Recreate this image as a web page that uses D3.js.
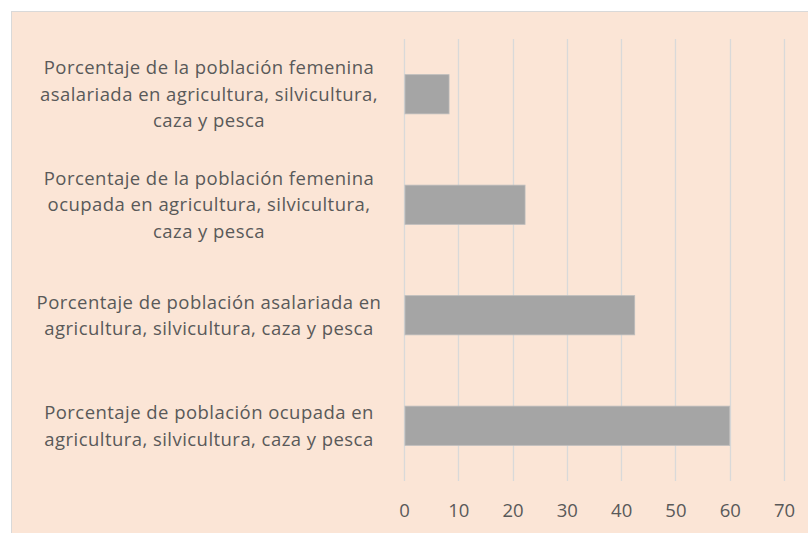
<!DOCTYPE html>
<html>
<head>
<meta charset="utf-8">
<script src="https://cdn.jsdelivr.net/npm/d3@7"></script>
<style>
  body { margin: 0; background: #ffffff; }
  text { font-family: "Open Sans", sans-serif; }
</style>
</head>
<body>
<div id="chart"></div>
<script>
////// DATA ////////
var categories = [
	"Porcentaje de la población femenina|asalariada en agricultura, silvicultura,|caza y pesca",
	"Porcentaje de la población femenina|ocupada en agricultura, silvicultura,|caza y pesca",
	"Porcentaje de población asalariada en|agricultura, silvicultura, caza y pesca",
	"Porcentaje de población ocupada en|agricultura, silvicultura, caza y pesca"
];
var values = [8.3, 22.3, 42.5, 60.0];
var xTicks = [0, 10, 20, 30, 40, 50, 60, 70];
////////////////////

var w = 808;
var h = 533;
var fontSize = 18.5;

var svg = d3.select("#chart")
	.append("svg")
	.attr("width", w)
	.attr("height", h);

// chart area background
svg.append("rect")
	.attr("x", 11.5)
	.attr("y", 11.5)
	.attr("width", w)
	.attr("height", h)
	.attr("fill", "#fbe5d6")
	.attr("stroke", "#d9d9d9")
	.attr("stroke-width", 1);

var plot = {left: 404, right: 784, top: 39, bottom: 481};

var xScale = d3.scaleLinear()
	.domain([0, 70])
	.range([plot.left, plot.right]);

var yScale = d3.scaleBand()
	.domain(categories)
	.range([plot.top, plot.bottom])
	.paddingInner(0.645)
	.paddingOuter(0.3225);

// gridlines
svg.append("g")
	.selectAll("line")
	.data(xTicks)
	.enter()
	.append("line")
	.attr("x1", function(d) { return Math.round(xScale(d)) + 0.5; })
	.attr("x2", function(d) { return Math.round(xScale(d)) + 0.5; })
	.attr("y1", plot.top)
	.attr("y2", plot.bottom)
	.attr("stroke", "#d9d9d9")
	.attr("stroke-width", 1.3);

// bars
svg.append("g")
	.selectAll("rect")
	.data(values)
	.enter()
	.append("rect")
	.attr("x", xScale(0) + 1)
	.attr("y", function(d, i) { return yScale(categories[i]); })
	.attr("width", function(d) { return xScale(d) - xScale(0) - 1; })
	.attr("height", yScale.bandwidth())
	.attr("fill", "#a5a5a5")
	.attr("stroke", "#bdbdbd")
	.attr("stroke-width", 0.8);

// x axis labels
var xAxis = d3.axisBottom(xScale)
	.tickValues(xTicks)
	.tickSize(0)
	.tickPadding(0)
	.tickFormat(d3.format("d"));

var gx = svg.append("g")
	.attr("transform", "translate(0," + 517 + ")")
	.call(xAxis);
gx.select(".domain").remove();
gx.selectAll("text")
	.attr("dy", 0)
	.style("font-size", fontSize + "px")
	.style("font-family", "'Open Sans', sans-serif")
	.attr("fill", "#595959");

// category labels (centred, multi-line)
var lineH = 26.5;
var labels = svg.append("g")
	.selectAll("text")
	.data(categories)
	.enter()
	.append("text")
	.attr("text-anchor", "middle")
	.style("font-size", fontSize + "px")
	.style("letter-spacing", "0.45px")
	.attr("fill", "#595959");

labels.each(function(d) {
	var lines = d.split("|");
	var cy = yScale(d) + yScale.bandwidth() / 2;
	var t = d3.select(this);
	lines.forEach(function(line, k) {
		t.append("tspan")
			.attr("x", 209)
			.attr("y", cy + (k - (lines.length - 1) / 2) * lineH + 6.5)
			.text(line);
	});
});
</script>
</body>
</html>
